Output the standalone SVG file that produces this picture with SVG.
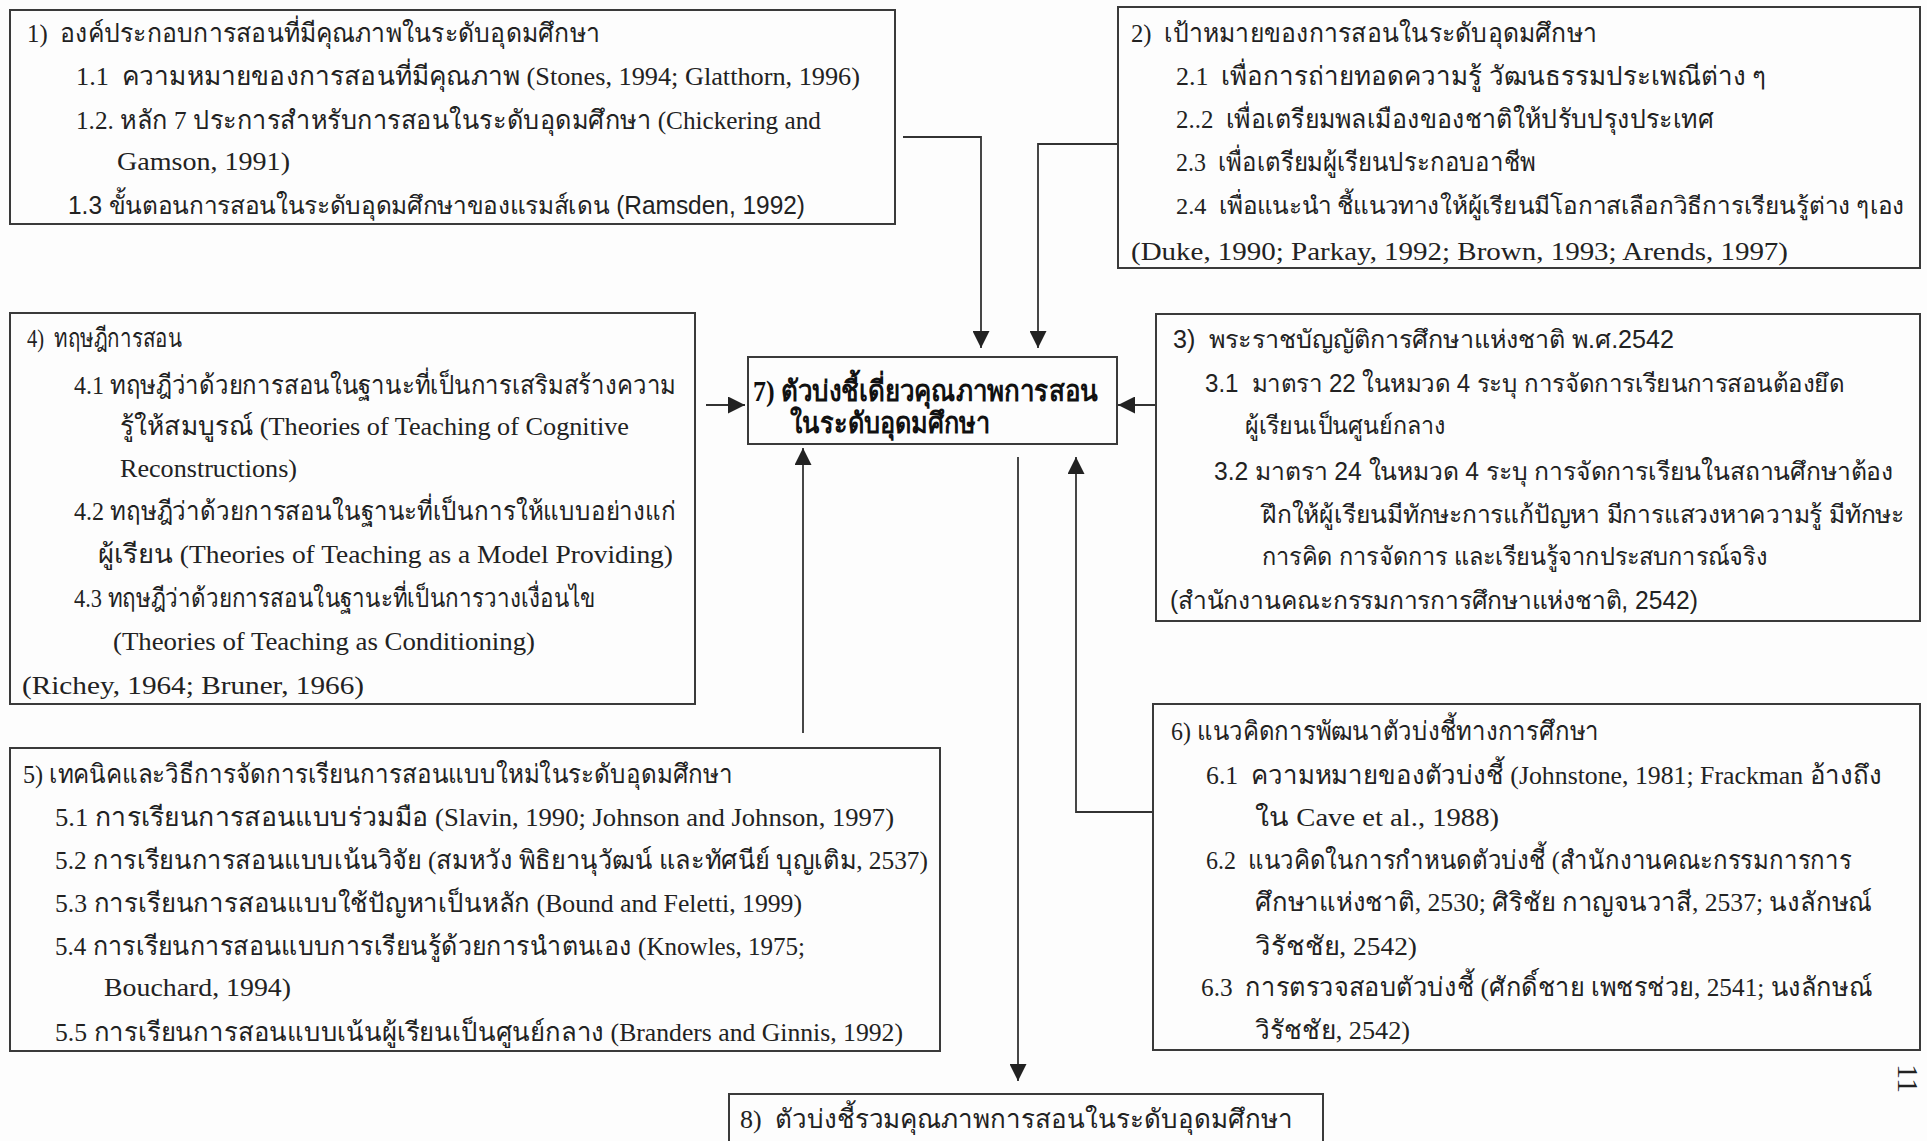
<svg xmlns="http://www.w3.org/2000/svg" width="1927" height="1141" viewBox="0 0 1927 1141">
<style>
.bg{fill:#fdfdfd}
.box{fill:none;stroke:#3a3a3a;stroke-width:2}
.t{font-family:"Liberation Serif","Noto Sans",serif;font-size:26px;fill:#222;white-space:pre}
.s{font-family:"Liberation Sans","Noto Sans",sans-serif;font-size:25px;fill:#222;white-space:pre}
.b{font-family:"Liberation Serif","Noto Sans",serif;font-size:29px;font-weight:bold;fill:#111;white-space:pre}
.c{fill:none;stroke:#333;stroke-width:1.8}
</style>
<defs>
<marker id="ah" viewBox="0 0 10 10" refX="10" refY="5" markerWidth="18" markerHeight="17" markerUnits="userSpaceOnUse" orient="auto">
<path d="M0,0 L10,5 L0,10 z" fill="#222"/>
</marker>
</defs>
<rect class="bg" x="0" y="0" width="1927" height="1141"/>

<g id="connectors">
<polyline class="c" points="903,137 981,137 981,348" marker-end="url(#ah)"/>
<polyline class="c" points="1117,144 1038,144 1038,348" marker-end="url(#ah)"/>
<line class="c" x1="706" y1="405" x2="745" y2="405" marker-end="url(#ah)"/>
<line class="c" x1="1155" y1="405" x2="1118" y2="405" marker-end="url(#ah)"/>
<line class="c" x1="803" y1="733" x2="803" y2="448" marker-end="url(#ah)"/>
<polyline class="c" points="1152,812 1076,812 1076,457" marker-end="url(#ah)"/>
<line class="c" x1="1018" y1="457" x2="1018" y2="1081" marker-end="url(#ah)"/>
</g>

<g id="node1">
<rect class="box" x="10" y="10" width="885" height="214"/>
<text class="t" x="27" y="42" textLength="573" lengthAdjust="spacingAndGlyphs">1)  องค์ประกอบการสอนที่มีคุณภาพในระดับอุดมศึกษา</text>
<text class="t" x="76" y="85" textLength="784" lengthAdjust="spacingAndGlyphs">1.1  ความหมายของการสอนที่มีคุณภาพ (Stones, 1994; Glatthorn, 1996)</text>
<text class="t" x="76" y="129" textLength="745" lengthAdjust="spacingAndGlyphs">1.2. หลัก 7 ประการสำหรับการสอนในระดับอุดมศึกษา (Chickering and</text>
<text class="t" x="117" y="170" textLength="173" lengthAdjust="spacingAndGlyphs">Gamson, 1991)</text>
<text class="s" x="68" y="214" textLength="737" lengthAdjust="spacingAndGlyphs">1.3 ขั้นตอนการสอนในระดับอุดมศึกษาของแรมส์เดน (Ramsden, 1992)</text>
</g>

<g id="node2">
<rect class="box" x="1118" y="7" width="802" height="261"/>
<text class="t" x="1131" y="42" textLength="466" lengthAdjust="spacingAndGlyphs">2)  เป้าหมายของการสอนในระดับอุดมศึกษา</text>
<text class="t" x="1176" y="85" textLength="590" lengthAdjust="spacingAndGlyphs">2.1  เพื่อการถ่ายทอดความรู้ วัฒนธรรมประเพณีต่าง ๆ</text>
<text class="t" x="1176" y="128" textLength="538" lengthAdjust="spacingAndGlyphs">2..2  เพื่อเตรียมพลเมืองของชาติให้ปรับปรุงประเทศ</text>
<text class="t" x="1176" y="171" textLength="360" lengthAdjust="spacingAndGlyphs">2.3  เพื่อเตรียมผู้เรียนประกอบอาชีพ</text>
<text class="t" x="1176" y="214" textLength="728" lengthAdjust="spacingAndGlyphs" style="font-size:24px">2.4  เพื่อแนะนำ ชี้แนวทางให้ผู้เรียนมีโอกาสเลือกวิธีการเรียนรู้ต่าง ๆเอง</text>
<text class="t" x="1131" y="260" textLength="657" lengthAdjust="spacingAndGlyphs">(Duke, 1990; Parkay, 1992; Brown, 1993; Arends, 1997)</text>
</g>

<g id="node4">
<rect class="box" x="10" y="313" width="685" height="391"/>
<text class="t" x="27" y="347" textLength="155" lengthAdjust="spacingAndGlyphs">4)  ทฤษฎีการสอน</text>
<text class="t" x="74" y="394" textLength="602" lengthAdjust="spacingAndGlyphs">4.1 ทฤษฎีว่าด้วยการสอนในฐานะที่เป็นการเสริมสร้างความ</text>
<text class="t" x="120" y="435" textLength="509" lengthAdjust="spacingAndGlyphs">รู้ให้สมบูรณ์ (Theories of Teaching of Cognitive</text>
<text class="t" x="120" y="477" textLength="177" lengthAdjust="spacingAndGlyphs">Reconstructions)</text>
<text class="t" x="74" y="520" textLength="602" lengthAdjust="spacingAndGlyphs">4.2 ทฤษฎีว่าด้วยการสอนในฐานะที่เป็นการให้แบบอย่างแก่</text>
<text class="t" x="98" y="563" textLength="575" lengthAdjust="spacingAndGlyphs">ผู้เรียน (Theories of Teaching as a Model Providing)</text>
<text class="t" x="74" y="607" textLength="522" lengthAdjust="spacingAndGlyphs">4.3 ทฤษฎีว่าด้วยการสอนในฐานะที่เป็นการวางเงื่อนไข</text>
<text class="t" x="113" y="650" textLength="422" lengthAdjust="spacingAndGlyphs">(Theories of Teaching as Conditioning)</text>
<text class="t" x="22" y="694" textLength="342" lengthAdjust="spacingAndGlyphs">(Richey, 1964; Bruner, 1966)</text>
</g>

<g id="node7">
<rect class="box" x="748" y="357" width="369" height="87"/>
<text class="b" x="753" y="401" textLength="345" lengthAdjust="spacingAndGlyphs">7) ตัวบ่งชี้เดี่ยวคุณภาพการสอน</text>
<text class="b" x="790" y="433" textLength="200" lengthAdjust="spacingAndGlyphs">ในระดับอุดมศึกษา</text>
</g>

<g id="node3">
<rect class="box" x="1156" y="314" width="764" height="307"/>
<text class="s" x="1173" y="348" textLength="501" lengthAdjust="spacingAndGlyphs">3)  พระราชบัญญัติการศึกษาแห่งชาติ พ.ศ.2542</text>
<text class="s" x="1205" y="392" textLength="639" lengthAdjust="spacingAndGlyphs">3.1  มาตรา 22 ในหมวด 4 ระบุ การจัดการเรียนการสอนต้องยึด</text>
<text class="s" x="1245" y="434" textLength="200" lengthAdjust="spacingAndGlyphs">ผู้เรียนเป็นศูนย์กลาง</text>
<text class="s" x="1214" y="480" textLength="679" lengthAdjust="spacingAndGlyphs">3.2 มาตรา 24 ในหมวด 4 ระบุ การจัดการเรียนในสถานศึกษาต้อง</text>
<text class="s" x="1262" y="523" textLength="642" lengthAdjust="spacingAndGlyphs">ฝึกให้ผู้เรียนมีทักษะการแก้ปัญหา มีการแสวงหาความรู้ มีทักษะ</text>
<text class="s" x="1262" y="565" textLength="505" lengthAdjust="spacingAndGlyphs">การคิด การจัดการ และเรียนรู้จากประสบการณ์จริง</text>
<text class="s" x="1170" y="609" textLength="528" lengthAdjust="spacingAndGlyphs">(สำนักงานคณะกรรมการการศึกษาแห่งชาติ, 2542)</text>
</g>

<g id="node5">
<rect class="box" x="10" y="748" width="930" height="303"/>
<text class="t" x="23" y="783" textLength="710" lengthAdjust="spacingAndGlyphs">5) เทคนิคและวิธีการจัดการเรียนการสอนแบบใหม่ในระดับอุดมศึกษา</text>
<text class="t" x="55" y="826" textLength="839" lengthAdjust="spacingAndGlyphs">5.1 การเรียนการสอนแบบร่วมมือ (Slavin, 1990; Johnson and Johnson, 1997)</text>
<text class="t" x="55" y="869" textLength="873" lengthAdjust="spacingAndGlyphs">5.2 การเรียนการสอนแบบเน้นวิจัย (สมหวัง พิธิยานุวัฒน์ และทัศนีย์ บุญเติม, 2537)</text>
<text class="t" x="55" y="912" textLength="747" lengthAdjust="spacingAndGlyphs">5.3 การเรียนการสอนแบบใช้ปัญหาเป็นหลัก (Bound and Feletti, 1999)</text>
<text class="t" x="55" y="955" textLength="750" lengthAdjust="spacingAndGlyphs">5.4 การเรียนการสอนแบบการเรียนรู้ด้วยการนำตนเอง (Knowles, 1975;</text>
<text class="t" x="104" y="996" textLength="187" lengthAdjust="spacingAndGlyphs">Bouchard, 1994)</text>
<text class="t" x="55" y="1041" textLength="848" lengthAdjust="spacingAndGlyphs">5.5 การเรียนการสอนแบบเน้นผู้เรียนเป็นศูนย์กลาง (Branders and Ginnis, 1992)</text>
</g>

<g id="node6">
<rect class="box" x="1153" y="704" width="767" height="346"/>
<text class="t" x="1171" y="740" textLength="428" lengthAdjust="spacingAndGlyphs">6) แนวคิดการพัฒนาตัวบ่งชี้ทางการศึกษา</text>
<text class="t" x="1206" y="784" textLength="676" lengthAdjust="spacingAndGlyphs">6.1  ความหมายของตัวบ่งชี้ (Johnstone, 1981; Frackman อ้างถึง</text>
<text class="t" x="1255" y="826" textLength="244" lengthAdjust="spacingAndGlyphs">ใน Cave et al., 1988)</text>
<text class="t" x="1206" y="869" textLength="646" lengthAdjust="spacingAndGlyphs">6.2  แนวคิดในการกำหนดตัวบ่งชี้ (สำนักงานคณะกรรมการการ</text>
<text class="t" x="1255" y="911" textLength="617" lengthAdjust="spacingAndGlyphs">ศึกษาแห่งชาติ, 2530; ศิริชัย กาญจนวาสี, 2537; นงลักษณ์</text>
<text class="t" x="1255" y="955" textLength="162" lengthAdjust="spacingAndGlyphs">วิรัชชัย, 2542)</text>
<text class="t" x="1201" y="996" textLength="671" lengthAdjust="spacingAndGlyphs">6.3  การตรวจสอบตัวบ่งชี้ (ศักดิ์ชาย เพชรช่วย, 2541; นงลักษณ์</text>
<text class="t" x="1255" y="1039" textLength="155" lengthAdjust="spacingAndGlyphs">วิรัชชัย, 2542)</text>
</g>

<g id="node8">
<rect class="box" x="729" y="1094" width="594" height="70"/>
<text class="t" x="740" y="1128" textLength="553" lengthAdjust="spacingAndGlyphs">8)  ตัวบ่งชี้รวมคุณภาพการสอนในระดับอุดมศึกษา</text>
</g>

<text class="t" transform="translate(1898,1064) rotate(90)" style="font-size:30px">11</text>
</svg>
